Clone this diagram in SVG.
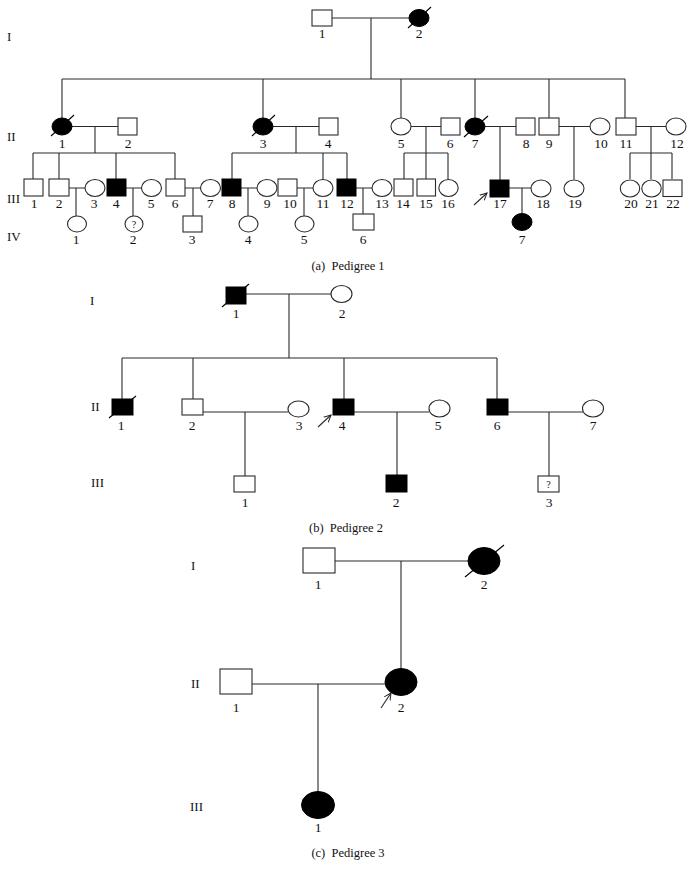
<svg xmlns="http://www.w3.org/2000/svg" width="694" height="880" viewBox="0 0 694 880">
<style>
.ln{stroke:#2a2a2a;stroke-width:1.1;fill:none}
.o{fill:#fff;stroke:#2a2a2a;stroke-width:1.1}
.a{fill:#000;stroke:#000;stroke-width:1}
.sl{stroke:#000;stroke-width:1.1}
text{font-family:"Liberation Serif","Times New Roman",serif;fill:#111}
.n{font-size:13.5px;text-anchor:middle}
.r{font-size:13px}
.q{font-size:10px;text-anchor:middle}
.c{font-size:12.5px;text-anchor:middle}
</style>
<defs>
<marker id="ah" markerWidth="8" markerHeight="8" refX="7" refY="4" orient="auto" markerUnits="userSpaceOnUse">
<path d="M0,0.5 L7,4 L0,7.5" fill="none" stroke="#222" stroke-width="1"/>
</marker>
</defs>
<rect width="694" height="880" fill="#fff"/>

<!-- Generation labels -->
<g id="gen-labels">
<text class="r" x="7" y="41">I</text>
<text class="r" x="7" y="141">II</text>
<text class="r" x="7" y="203">III</text>
<text class="r" x="7" y="241">IV</text>
<text class="r" x="90" y="305">I</text>
<text class="r" x="91" y="411">II</text>
<text class="r" x="91" y="487">III</text>
<text class="r" x="191" y="570">I</text>
<text class="r" x="191" y="688">II</text>
<text class="r" x="190" y="811">III</text>
</g>

<!-- Connectors -->
<g id="connectors" class="ln">
<!-- Pedigree 1 -->
<path d="M332,18H409 M371,18V79 M62,79H625 M62,79V118 M263,79V118 M401,79V118 M475,79V118 M549,79V118 M625,79V118"/>
<path d="M72,126.5H118 M95,126.5V153 M33,153H175 M33,153V179 M59,153V179 M116,153V179 M175,153V179"/>
<path d="M273,126.5H319 M296,126.5V153 M232,153H347 M232,153V179 M323,153V179 M347,153V179"/>
<path d="M411,126.5H441 M426,126.5V153 M404,153H448 M404,153V179 M426,153V179 M448,153V179"/>
<path d="M485,126.5H516 M500,126.5V180"/>
<path d="M559,126.5H590 M574,126.5V179.5"/>
<path d="M636,126.5H666 M651,126.5V153 M630,153H672 M630,153V179 M651,153V179 M672,153V179"/>
<path d="M69,188H85 M76,188V216 M126,188H142 M133,188V216 M185,188H201 M193,188V216"/>
<path d="M241,188H257 M248,188V216 M297,188H313 M304,188V216 M356,188H372 M363,188V214"/>
<path d="M509,188H531 M522,188V213.5"/>
<!-- Pedigree 2 -->
<path d="M246,294H331 M289,294V358 M122,358H497 M122,358V399 M193,358V399 M344,358V399 M497,358V399"/>
<path d="M203,412H288 M245,412V476 M354,412H429 M397,412V475 M508,412H583 M549,412V476"/>
<!-- Pedigree 3 -->
<path d="M335,561H468 M401,561V668.5 M252,684H385 M318,684V791.5"/>
<!-- proband arrows -->
<path d="M474,205L487,193" marker-end="url(#ah)"/>
<path d="M318,427L331,415" marker-end="url(#ah)"/>
<path d="M381,708L391,693" marker-end="url(#ah)"/>
</g>

<!-- ===== Pedigree 1 ===== -->
<g id="p1-I-1"><rect class="o" x="312" y="10" width="20" height="16"/><text class="n" x="322" y="38">1</text></g>
<g id="p1-I-2"><ellipse class="a" cx="419" cy="18" rx="10" ry="8.5"/><line class="sl" x1="408" y1="28" x2="431" y2="7"/><text class="n" x="419" y="38">2</text></g>

<g id="p1-II-1"><ellipse class="a" cx="62" cy="126.5" rx="10" ry="8.5"/><line class="sl" x1="51" y1="136" x2="74" y2="115"/><text class="n" x="62" y="148">1</text></g>
<g id="p1-II-2"><rect class="o" x="118" y="118" width="19" height="17"/><text class="n" x="128" y="148">2</text></g>
<g id="p1-II-3"><ellipse class="a" cx="263" cy="126.5" rx="10" ry="8.5"/><line class="sl" x1="252" y1="136" x2="275" y2="115"/><text class="n" x="263" y="148">3</text></g>
<g id="p1-II-4"><rect class="o" x="319" y="118" width="19" height="17"/><text class="n" x="328" y="148">4</text></g>
<g id="p1-II-5"><ellipse class="o" cx="401" cy="126.5" rx="10" ry="8.5"/><text class="n" x="401" y="148">5</text></g>
<g id="p1-II-6"><rect class="o" x="441" y="118" width="19" height="17"/><text class="n" x="450" y="148">6</text></g>
<g id="p1-II-7"><ellipse class="a" cx="475" cy="126.5" rx="10" ry="8.5"/><line class="sl" x1="464" y1="137" x2="488" y2="116"/><text class="n" x="475" y="148">7</text></g>
<g id="p1-II-8"><rect class="o" x="516" y="118" width="19" height="17"/><text class="n" x="526" y="148">8</text></g>
<g id="p1-II-9"><rect class="o" x="539" y="118" width="20" height="17"/><text class="n" x="549" y="148">9</text></g>
<g id="p1-II-10"><ellipse class="o" cx="600" cy="126.5" rx="10" ry="8.5"/><text class="n" x="601" y="148">10</text></g>
<g id="p1-II-11"><rect class="o" x="616" y="118" width="20" height="17"/><text class="n" x="626" y="148">11</text></g>
<g id="p1-II-12"><ellipse class="o" cx="676" cy="126.5" rx="10" ry="8.5"/><text class="n" x="677" y="148">12</text></g>

<g id="p1-III-1"><rect class="o" x="24" y="179" width="19" height="17"/><text class="n" x="34" y="208">1</text></g>
<g id="p1-III-2"><rect class="o" x="49" y="179" width="20" height="17"/><text class="n" x="59" y="208">2</text></g>
<g id="p1-III-3"><ellipse class="o" cx="95" cy="188" rx="10" ry="8.5"/><text class="n" x="94" y="208">3</text></g>
<g id="p1-III-4"><rect class="a" x="107" y="179" width="19" height="17"/><text class="n" x="116" y="208">4</text></g>
<g id="p1-III-5"><ellipse class="o" cx="151.5" cy="188" rx="10" ry="8.5"/><text class="n" x="151" y="208">5</text></g>
<g id="p1-III-6"><rect class="o" x="166" y="179" width="19" height="17"/><text class="n" x="175" y="208">6</text></g>
<g id="p1-III-7"><ellipse class="o" cx="210.5" cy="188" rx="10" ry="8.5"/><text class="n" x="210" y="208">7</text></g>
<g id="p1-III-8"><rect class="a" x="222" y="179" width="19" height="17"/><text class="n" x="232" y="208">8</text></g>
<g id="p1-III-9"><ellipse class="o" cx="267" cy="188" rx="10" ry="8.5"/><text class="n" x="267" y="208">9</text></g>
<g id="p1-III-10"><rect class="o" x="278" y="179" width="19" height="17"/><text class="n" x="290" y="208">10</text></g>
<g id="p1-III-11"><ellipse class="o" cx="323" cy="188" rx="10" ry="8.5"/><text class="n" x="323" y="208">11</text></g>
<g id="p1-III-12"><rect class="a" x="337" y="179" width="19" height="17"/><text class="n" x="347" y="208">12</text></g>
<g id="p1-III-13"><ellipse class="o" cx="382" cy="188" rx="10" ry="8.5"/><text class="n" x="382" y="208">13</text></g>
<g id="p1-III-14"><rect class="o" x="394" y="179" width="19" height="17"/><text class="n" x="403" y="208">14</text></g>
<g id="p1-III-15"><rect class="o" x="417" y="179" width="18.5" height="17"/><text class="n" x="426" y="208">15</text></g>
<g id="p1-III-16"><ellipse class="o" cx="448.5" cy="188" rx="9.7" ry="8.5"/><text class="n" x="448" y="208">16</text></g>
<g id="p1-III-17"><rect class="a" x="490" y="180" width="19" height="17"/><text class="n" x="500" y="208">17</text></g>
<g id="p1-III-18"><ellipse class="o" cx="541" cy="188.5" rx="10" ry="8.5"/><text class="n" x="543" y="208">18</text></g>
<g id="p1-III-19"><ellipse class="o" cx="574" cy="188.5" rx="10" ry="8.5"/><text class="n" x="575" y="208">19</text></g>
<g id="p1-III-20"><ellipse class="o" cx="630" cy="188.5" rx="9.7" ry="8.5"/><text class="n" x="631" y="208">20</text></g>
<g id="p1-III-21"><ellipse class="o" cx="651.5" cy="188.5" rx="9.7" ry="8.5"/><text class="n" x="652" y="208">21</text></g>
<g id="p1-III-22"><rect class="o" x="663" y="180" width="19" height="16.5"/><text class="n" x="673" y="208">22</text></g>

<g id="p1-IV-1"><ellipse class="o" cx="77" cy="224" rx="9.5" ry="8"/><text class="n" x="76" y="244">1</text></g>
<g id="p1-IV-2"><ellipse class="o" cx="134" cy="224" rx="9" ry="8"/><text class="q" x="134" y="228">?</text><text class="n" x="133" y="244">2</text></g>
<g id="p1-IV-3"><rect class="o" x="183" y="216" width="19" height="16"/><text class="n" x="192" y="244">3</text></g>
<g id="p1-IV-4"><ellipse class="o" cx="248.5" cy="224" rx="9.5" ry="8"/><text class="n" x="248" y="244">4</text></g>
<g id="p1-IV-5"><ellipse class="o" cx="304.5" cy="224" rx="9.5" ry="8"/><text class="n" x="304" y="244">5</text></g>
<g id="p1-IV-6"><rect class="o" x="353" y="214" width="21" height="16"/><text class="n" x="363" y="244">6</text></g>
<g id="p1-IV-7"><ellipse class="a" cx="522" cy="222" rx="10" ry="8.5"/><text class="n" x="522" y="244">7</text></g>

<text class="c" x="348" y="270" xml:space="preserve">(a)  Pedigree 1</text>

<!-- ===== Pedigree 2 ===== -->
<g id="p2-I-1"><rect class="a" x="226" y="287" width="20" height="17"/><line class="sl" x1="222" y1="307" x2="249" y2="284"/><text class="n" x="236" y="318">1</text></g>
<g id="p2-I-2"><ellipse class="o" cx="341.5" cy="294" rx="10.5" ry="8.5"/><text class="n" x="342" y="318">2</text></g>

<g id="p2-II-1"><rect class="a" x="112" y="399" width="21" height="16"/><line class="sl" x1="109" y1="418" x2="136" y2="396"/><text class="n" x="121" y="430">1</text></g>
<g id="p2-II-2"><rect class="o" x="182" y="399" width="21" height="16"/><text class="n" x="192" y="430">2</text></g>
<g id="p2-II-3"><ellipse class="o" cx="298.5" cy="409" rx="10.5" ry="8"/><text class="n" x="299" y="430">3</text></g>
<g id="p2-II-4"><rect class="a" x="333" y="399" width="21" height="16"/><text class="n" x="342" y="430">4</text></g>
<g id="p2-II-5"><ellipse class="o" cx="439.5" cy="408.5" rx="10.5" ry="8.5"/><text class="n" x="438" y="430">5</text></g>
<g id="p2-II-6"><rect class="a" x="487" y="399" width="21" height="16"/><text class="n" x="497" y="430">6</text></g>
<g id="p2-II-7"><ellipse class="o" cx="593" cy="408.5" rx="10.5" ry="8.5"/><text class="n" x="593" y="430">7</text></g>

<g id="p2-III-1"><rect class="o" x="234" y="476" width="21" height="16"/><text class="n" x="245" y="507">1</text></g>
<g id="p2-III-2"><rect class="a" x="386" y="475" width="21" height="17"/><text class="n" x="396" y="507">2</text></g>
<g id="p2-III-3"><rect class="o" x="538" y="476" width="21" height="16"/><text class="q" x="548.5" y="488">?</text><text class="n" x="549" y="507">3</text></g>

<text class="c" x="346" y="532" xml:space="preserve">(b)  Pedigree 2</text>

<!-- ===== Pedigree 3 ===== -->
<g id="p3-I-1"><rect class="o" x="303" y="548" width="32" height="25"/><text class="n" x="318" y="589">1</text></g>
<g id="p3-I-2"><ellipse class="a" cx="484" cy="561" rx="16" ry="13.5"/><line class="sl" x1="465" y1="577" x2="504" y2="545"/><text class="n" x="484" y="589">2</text></g>
<g id="p3-II-1"><rect class="o" x="220" y="669" width="32" height="25"/><text class="n" x="236" y="712">1</text></g>
<g id="p3-II-2"><ellipse class="a" cx="401" cy="682" rx="16" ry="13.5"/><text class="n" x="401" y="712">2</text></g>
<g id="p3-III-1"><ellipse class="a" cx="318" cy="805" rx="16.5" ry="13.5"/><text class="n" x="318" y="832">1</text></g>

<text class="c" x="348" y="857" xml:space="preserve">(c)  Pedigree 3</text>
</svg>
